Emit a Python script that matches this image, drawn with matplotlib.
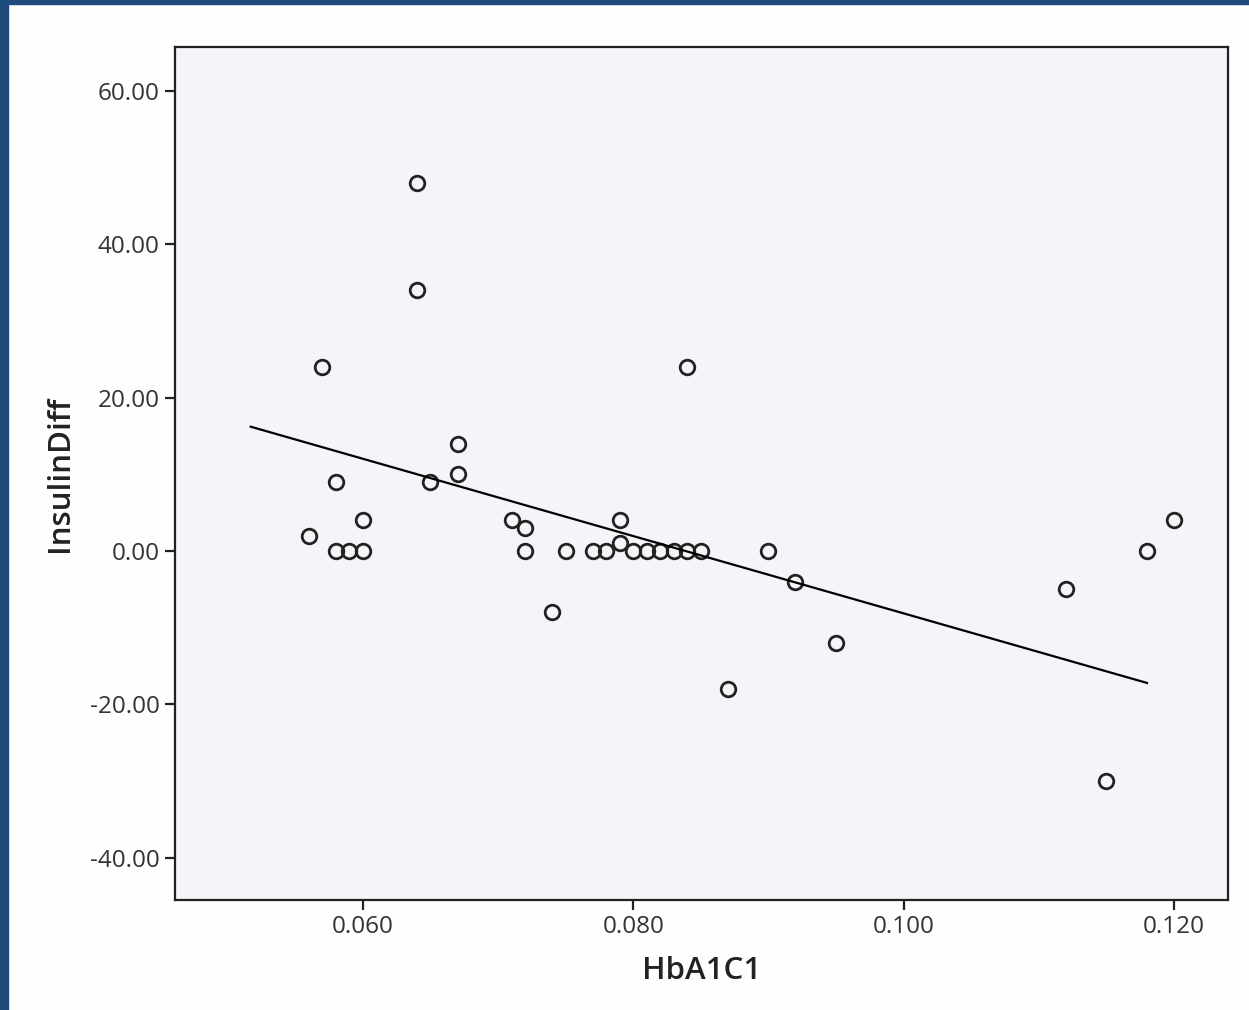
import numpy as np
import matplotlib.pyplot as plt
from matplotlib.patches import Rectangle

# HbA1C1 vs InsulinDiff
hba1c = [0.056, 0.057, 0.058, 0.058, 0.059, 0.060, 0.060, 0.064, 0.064, 0.065,
         0.067, 0.067, 0.071, 0.072, 0.072, 0.074, 0.075, 0.077, 0.078, 0.079,
         0.079, 0.080, 0.081, 0.082, 0.083, 0.084, 0.085, 0.084, 0.087, 0.090,
         0.092, 0.095, 0.112, 0.115, 0.118, 0.120]
insulin_diff = [2, 24, 9, 0, 0, 0, 4, 48, 34, 9,
                14, 10, 4, 3, 0, -8, 0, 0, 0, 4,
                1, 0, 0, 0, 0, 0, 0, 24, -18, 0,
                -4, -12, -5, -30, 0, 4]
# fit line ends as drawn in the chart
fit_x = [0.0517, 0.118]
fit_y = [16.2, -17.2]
xticks = [0.060, 0.080, 0.100, 0.120]
yticks = [-40, -20, 0, 20, 40, 60]

plt.rcParams['font.family'] = ['Open Sans', 'DejaVu Sans']

fig = plt.figure(figsize=(12.49, 10.10), dpi=100, facecolor='#fdfefd')
ax = fig.add_axes([0.1401, 0.1089, 0.8431, 0.8446])
ax.set_facecolor('#f5f5f9')

ax.plot(hba1c, insulin_diff, 'o', ms=10.5, mfc='none', mec='#222222', mew=2.0)
ax.plot(fit_x, fit_y, color='black', lw=1.6)

ax.set_xlim(0.0461, 0.1240)
ax.set_ylim(-45.5, 65.7)
ax.set_xticks(xticks)
ax.set_xticklabels(['%.3f' % v for v in xticks])
ax.set_yticks(yticks)
ax.set_yticklabels(['%.2f' % v for v in yticks])
ax.tick_params(labelsize=17.5, labelcolor='#333333', color='#222222', length=7, width=1.6, pad=4)
for s in ax.spines.values():
    s.set_color('#222222')
    s.set_linewidth(1.6)

ax.set_xlabel('HbA1C1', fontsize=22.5, fontweight='semibold', color='#222222', labelpad=12)
ax.set_ylabel('InsulinDiff', fontsize=22.5, fontweight='semibold', color='#222222', labelpad=11)

# blue frame of the screenshot
fig.patches.append(Rectangle((0, 0), 8 / 1249, 1, transform=fig.transFigure, color='#1f4a7c', zorder=5))
fig.patches.append(Rectangle((0, 1 - 4 / 1010), 1, 4 / 1010, transform=fig.transFigure, color='#1f4a7c', zorder=5))

fig.savefig('out.png', dpi=100, facecolor=fig.get_facecolor())
